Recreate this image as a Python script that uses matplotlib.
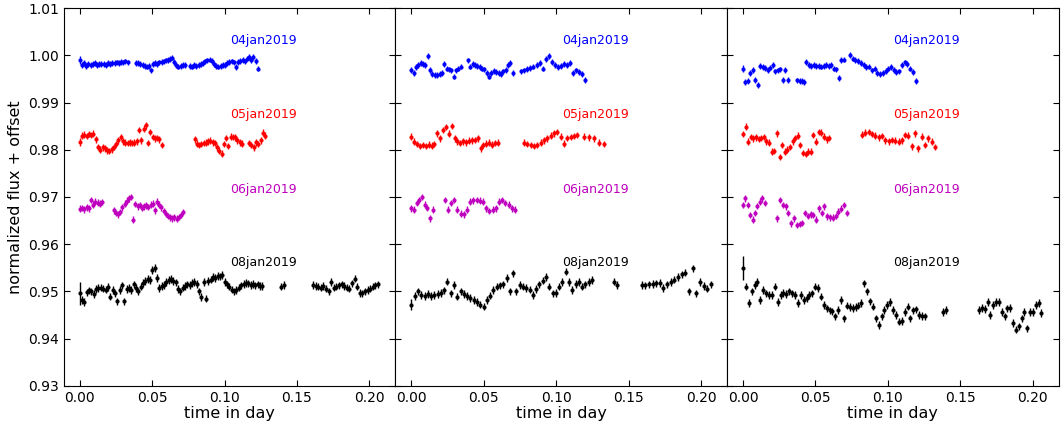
import matplotlib
matplotlib.use('Agg')
import matplotlib.pyplot as plt
import numpy as np

# nights and colours
nights = ['04jan2019', '05jan2019', '06jan2019', '08jan2019']
colors = ['b', 'r', 'm', 'k']
label_y = [1.0032, 0.9874, 0.9716, 0.9562]
label_x = 0.104

# typical error per night, and error of the first point in each panel
errs = [0.0006, 0.0007, 0.0007, 0.0008]
first_err = [[0.0009, 0.0008, 0.0007, 0.0024],
             [0.0007, 0.0007, 0.0007, 0.0011],
             [0.0008, 0.0007, 0.0007, 0.0025]]

# each series: list of (t_start, t_end, flux values) segments, evenly sampled
# ---------------- panel 1 ----------------
p1_04 = [
    (0.000, 0.033, [0.9990, 0.9980, 0.9984, 0.9977, 0.9982, 0.9979, 0.9981, 0.9983, 0.9980, 0.9982, 0.9981, 0.9982,
                    0.9980, 0.9983, 0.9982, 0.9984, 0.9983, 0.9985, 0.9984, 0.9986, 0.9985, 0.9987, 0.9985]),
    (0.039, 0.0725, [0.9984, 0.9983, 0.9981, 0.9979, 0.9977, 0.9976, 0.9978, 0.9968, 0.9981, 0.9983, 0.9982, 0.9985,
                     0.9986, 0.9987, 0.9989, 0.9990, 0.9992, 0.9995, 0.9986, 0.9979, 0.9976, 0.9978, 0.9980, 0.9979]),
    (0.076, 0.123, [0.9978, 0.9976, 0.9979, 0.9977, 0.9980, 0.9982, 0.9984, 0.9987, 0.9989, 0.9991, 0.9988, 0.9982,
                    0.9978, 0.9976, 0.9977, 0.9979, 0.9980, 0.9984, 0.9986, 0.9987, 0.9985, 0.9975, 0.9986, 0.9988,
                    0.9990, 0.9987, 0.9993, 0.9997, 0.9990, 0.9996, 0.9988, 0.9972]),
]
p1_05 = [
    (0.000, 0.0566, [0.9817, 0.9830, 0.9832, 0.9829, 0.9833, 0.9831, 0.9834, 0.9822, 0.9806, 0.9800, 0.9805, 0.9803,
                     0.9799, 0.9797, 0.9801, 0.9806, 0.9812, 0.9820, 0.9827, 0.9818, 0.9815, 0.9814, 0.9816, 0.9814,
                     0.9815, 0.9818, 0.9842, 0.9820, 0.9845, 0.9852, 0.9814, 0.9838, 0.9827, 0.9824, 0.9825, 0.9822,
                     0.9810]),
    (0.0793, 0.112, [0.9822, 0.9813, 0.9810, 0.9812, 0.9814, 0.9815, 0.9818, 0.9819, 0.9816, 0.9814, 0.9805, 0.9798,
                     0.9792, 0.9812, 0.9825, 0.9808, 0.9828, 0.9827, 0.9826, 0.9820, 0.9816, 0.9813]),
    (0.117, 0.128, [0.9814, 0.9810, 0.9805, 0.9816, 0.9812, 0.9820, 0.9836, 0.9830]),
]
p1_06 = [
    (0.000, 0.0155, [0.9675, 0.9677, 0.9674, 0.9678, 0.9676, 0.9694, 0.9684, 0.9690, 0.9688, 0.9686, 0.9689]),
    (0.0235, 0.0714, [0.9672, 0.9666, 0.9663, 0.9668, 0.9678, 0.9686, 0.9692, 0.9697, 0.9700, 0.9652, 0.9685, 0.9680,
                      0.9683, 0.9677, 0.9680, 0.9682, 0.9679, 0.9684, 0.9686, 0.9672, 0.9690, 0.9684, 0.9678, 0.9670,
                      0.9664, 0.9660, 0.9657, 0.9655, 0.9657, 0.9654, 0.9658, 0.9662, 0.9668]),
]
p1_08 = [
    (0.000, 0.126, [0.9496, 0.9482, 0.9478, 0.9498, 0.9502, 0.9500, 0.9495, 0.9505, 0.9507, 0.9508, 0.9506, 0.9504,
                    0.9509, 0.9489, 0.9503, 0.9496, 0.9479, 0.9503, 0.9513, 0.9479, 0.9505, 0.9507, 0.9503, 0.9515,
                    0.9507, 0.9500, 0.9510, 0.9518, 0.9522, 0.9526, 0.9524, 0.9545, 0.9550, 0.9528, 0.9507, 0.9511,
                    0.9514, 0.9520, 0.9524, 0.9526, 0.9522, 0.9519, 0.9505, 0.9500, 0.9508, 0.9512, 0.9515, 0.9514,
                    0.9518, 0.9520, 0.9516, 0.9500, 0.9488, 0.9520, 0.9485, 0.9522, 0.9525, 0.9530, 0.9529, 0.9533,
                    0.9532, 0.9535, 0.9520, 0.9515, 0.9510, 0.9504, 0.9500, 0.9503, 0.9508, 0.9513, 0.9516, 0.9518,
                    0.9517, 0.9514, 0.9516, 0.9513, 0.9515, 0.9512, 0.9511]),
    (0.139, 0.141, [0.9510, 0.9514]),
    (0.161, 0.206, [0.9514, 0.9512, 0.9510, 0.9508, 0.9511, 0.9506, 0.9500, 0.9520, 0.9508, 0.9510, 0.9513, 0.9515,
                    0.9512, 0.9508, 0.9506, 0.9517, 0.9527, 0.9510, 0.9497, 0.9496, 0.9500, 0.9503, 0.9506, 0.9510,
                    0.9513, 0.9515]),
]

# ---------------- panel 2 ----------------
p2_04 = [
    (0.000, 0.034, [0.9969, 0.9962, 0.9975, 0.9980, 0.9983, 0.9981, 0.9979, 0.9998, 0.9969, 0.9961, 0.9958, 0.9959,
                    0.9960, 0.9962, 0.9981, 0.9972, 0.9970, 0.9968, 0.9955, 0.9968, 0.9972, 0.9976]),
    (0.039, 0.070, [0.9989, 0.9976, 0.9982, 0.9979, 0.9977, 0.9975, 0.9972, 0.9970, 0.9962, 0.9955, 0.9963, 0.9967,
                    0.9965, 0.9962, 0.9960, 0.9966, 0.9969, 0.9980, 0.9983, 0.9962]),
    (0.076, 0.1197, [0.9966, 0.9968, 0.9971, 0.9973, 0.9976, 0.9979, 0.9983, 0.9972, 0.9992, 0.9998, 0.9986, 0.9980,
                     0.9975, 0.9978, 0.9982, 0.9980, 0.9983, 0.9962, 0.9968, 0.9965, 0.9960, 0.9948]),
]
p2_05 = [
    (0.000, 0.0597, [0.9828, 0.9817, 0.9812, 0.9808, 0.9810, 0.9808, 0.9811, 0.9809, 0.9812, 0.9835, 0.9824, 0.9842,
                     0.9848, 0.9834, 0.9850, 0.9824, 0.9818, 0.9814, 0.9818, 0.9816, 0.9819, 0.9820, 0.9821, 0.9824,
                     0.9803, 0.9810, 0.9813, 0.9815, 0.9811, 0.9814, 0.9815]),
    (0.0777, 0.1145, [0.9815, 0.9812, 0.9810, 0.9808, 0.9810, 0.9815, 0.9820, 0.9824, 0.9830, 0.9835, 0.9838, 0.9828,
                      0.9813, 0.9825, 0.9827, 0.9829, 0.9831]),
    (0.119, 0.133, [0.9828, 0.9826, 0.9824, 0.9815, 0.9812]),
]
p2_06 = [
    (0.000, 0.0146, [0.9676, 0.9673, 0.9687, 0.9694, 0.9700, 0.9684, 0.9677, 0.9655, 0.9673]),
    (0.023, 0.0716, [0.9694, 0.9673, 0.9687, 0.9694, 0.9673, 0.9665, 0.9663, 0.9673, 0.9690, 0.9693, 0.9694, 0.9692,
                     0.9690, 0.9676, 0.9670, 0.9673, 0.9676, 0.9690, 0.9694, 0.9687, 0.9684, 0.9676, 0.9673]),
]
p2_08 = [
    (0.000, 0.1247, [0.9472, 0.9490, 0.9500, 0.9492, 0.9490, 0.9495, 0.9490, 0.9492, 0.9495, 0.9497, 0.9502, 0.9521,
                     0.9496, 0.9514, 0.9489, 0.9500, 0.9494, 0.9490, 0.9486, 0.9482, 0.9478, 0.9472, 0.9468, 0.9482,
                     0.9491, 0.9503, 0.9510, 0.9513, 0.9515, 0.9528, 0.9500, 0.9538, 0.9500, 0.9514, 0.9510, 0.9507,
                     0.9504, 0.9493, 0.9505, 0.9515, 0.9523, 0.9530, 0.9510, 0.9496, 0.9497, 0.9510, 0.9520, 0.9542,
                     0.9520, 0.9503, 0.9516, 0.9520, 0.9510, 0.9515, 0.9520, 0.9524]),
    (0.140, 0.142, [0.9521, 0.9514]),
    (0.159, 0.2068, [0.9514, 0.9513, 0.9515, 0.9516, 0.9517, 0.9518, 0.9507, 0.9515, 0.9520, 0.9525, 0.9531, 0.9536,
                     0.9540, 0.9500, 0.9549, 0.9496, 0.9520, 0.9512, 0.9506, 0.9515]),
]

# ---------------- panel 3 ----------------
p3_04 = [
    (0.000, 0.031, [0.9972, 0.9944, 0.9945, 0.9962, 0.9969, 0.9948, 0.9937, 0.9977, 0.9975, 0.9973, 0.9969, 0.9974,
                    0.9979, 0.9966, 0.9968, 0.9970, 0.9948, 0.9969, 0.9948]),
    (0.0374, 0.0424, [0.9947, 0.9945, 0.9946, 0.9944]),
    (0.0436, 0.0697, [0.9986, 0.9980, 0.9978, 0.9979, 0.9977, 0.9978, 0.9976, 0.9977, 0.9979, 0.9978, 0.9980, 0.9972,
                      0.9970, 0.9952, 0.9990, 0.9991]),
    (0.0739, 0.1192, [1.0001, 0.9993, 0.9990, 0.9988, 0.9983, 0.9979, 0.9975, 0.9976, 0.9968, 0.9972, 0.9962, 0.9960,
                      0.9962, 0.9967, 0.9972, 0.9975, 0.9969, 0.9964, 0.9966, 0.9980, 0.9985, 0.9982, 0.9972, 0.9965,
                      0.9945]),
]
p3_05 = [
    (0.000, 0.0595, [0.9833, 0.9849, 0.9817, 0.9827, 0.9824, 0.9826, 0.9823, 0.9825, 0.9827, 0.9818, 0.9815, 0.9796,
                     0.9797, 0.9835, 0.9785, 0.9810, 0.9796, 0.9800, 0.9806, 0.9818, 0.9825, 0.9830, 0.9810, 0.9793,
                     0.9791, 0.9796, 0.9796, 0.9831, 0.9817, 0.9838, 0.9836, 0.9828, 0.9822, 0.9825]),
    (0.0823, 0.1325, [0.9832, 0.9836, 0.9838, 0.9833, 0.9830, 0.9826, 0.9829, 0.9820, 0.9818, 0.9821, 0.9819, 0.9817,
                      0.9820, 0.9831, 0.9830, 0.9807, 0.9835, 0.9803, 0.9828, 0.9810, 0.9824, 0.9817, 0.9806]),
]
p3_06 = [
    (0.000, 0.015, [0.9683, 0.9697, 0.9683, 0.9662, 0.9652, 0.9666, 0.9681, 0.9690, 0.9697, 0.9687]),
    (0.0237, 0.0716, [0.9655, 0.9694, 0.9683, 0.9680, 0.9666, 0.9644, 0.9655, 0.9641, 0.9643, 0.9645, 0.9666, 0.9660,
                      0.9663, 0.9662, 0.9652, 0.9676, 0.9666, 0.9680, 0.9659, 0.9657, 0.9656, 0.9660, 0.9669, 0.9675,
                      0.9683, 0.9666]),
]
p3_08 = [
    (0.000, 0.1256, [0.9549, 0.9510, 0.9475, 0.9500, 0.9514, 0.9520, 0.9482, 0.9503, 0.9496, 0.9493, 0.9493, 0.9510,
                     0.9478, 0.9493, 0.9497, 0.9495, 0.9500, 0.9496, 0.9493, 0.9475, 0.9493, 0.9482, 0.9486, 0.9493,
                     0.9496, 0.9510, 0.9507, 0.9489, 0.9471, 0.9464, 0.9460, 0.9458, 0.9447, 0.9461, 0.9482, 0.9443,
                     0.9470, 0.9467, 0.9465, 0.9467, 0.9470, 0.9475, 0.9517, 0.9500, 0.9479, 0.9468, 0.9443, 0.9429,
                     0.9447, 0.9461, 0.9471, 0.9478, 0.9461, 0.9450, 0.9436, 0.9437, 0.9457, 0.9468, 0.9443, 0.9460,
                     0.9462, 0.9450, 0.9448, 0.9447]),
    (0.138, 0.140, [0.9457, 0.9461]),
    (0.163, 0.2061, [0.9461, 0.9465, 0.9463, 0.9478, 0.9450, 0.9471, 0.9478, 0.9478, 0.9457, 0.9447, 0.9464, 0.9465,
                     0.9433, 0.9419, 0.9426, 0.9443, 0.9457, 0.9422, 0.9457, 0.9457, 0.9471, 0.9475, 0.9454]),
]

panels = [[p1_04, p1_05, p1_06, p1_08],
          [p2_04, p2_05, p2_06, p2_08],
          [p3_04, p3_05, p3_06, p3_08]]

fig, axes = plt.subplots(1, 3, figsize=(10.64, 4.25), dpi=100, sharey=True)
fig.subplots_adjust(left=0.060, right=0.995, top=0.981, bottom=0.092, wspace=0)

for p, ax in enumerate(axes):
    for i, series in enumerate(panels[p]):
        t = np.concatenate([np.linspace(a, b, len(v)) for a, b, v in series])
        f = np.concatenate([v for a, b, v in series])
        e = np.full(len(f), errs[i])
        e[0] = first_err[p][i]
        ax.errorbar(t, f, yerr=e, fmt='o', ms=2.0, color=colors[i], ecolor=colors[i],
                    elinewidth=1.0, capsize=0)
        ax.text(label_x, label_y[i], nights[i], color=colors[i], fontsize=9, ha='left', va='center')
    ax.set_xlim(-0.011, 0.218)
    ax.set_ylim(0.93, 1.01)
    ax.set_xticks([0.0, 0.05, 0.10, 0.15, 0.20])
    ax.set_xticklabels(['0.00', '0.05', '0.10', '0.15', '0.20'])
    ax.tick_params(direction='in', top=True, right=True, labelsize=10, length=4)
    ax.set_xlabel('time in day', fontsize=11.5, labelpad=1)
    if p > 0:
        ax.tick_params(labelleft=False)

axes[0].set_yticks([0.93, 0.94, 0.95, 0.96, 0.97, 0.98, 0.99, 1.00, 1.01])
axes[0].set_yticklabels(['0.93', '0.94', '0.95', '0.96', '0.97', '0.98', '0.99', '1.00', '1.01'])
axes[0].set_ylabel('normalized flux + offset', fontsize=11.5)

plt.savefig('out.png', dpi=100)
